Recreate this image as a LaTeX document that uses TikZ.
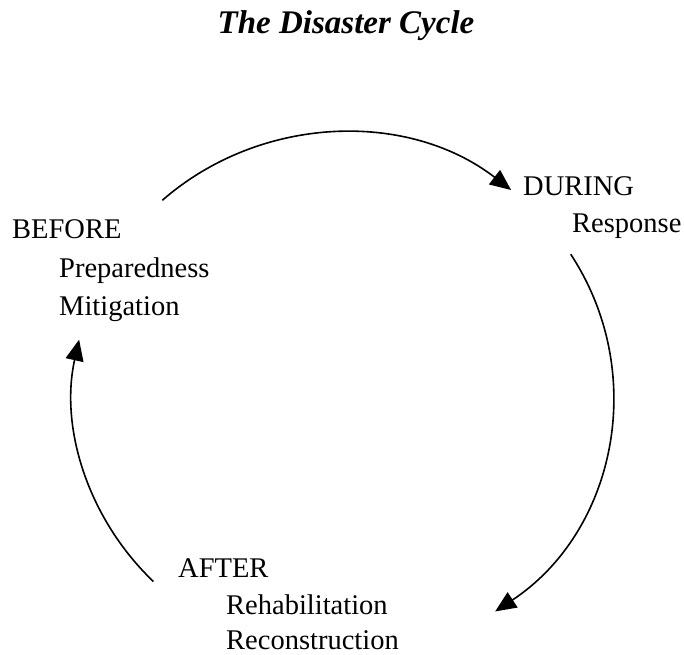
\documentclass[tikz,border=0pt]{standalone}
\usepackage{fontspec}
\setmainfont{Liberation Serif}
\usetikzlibrary{arrows.meta}

\tikzset{
  label/.style={anchor=base west, inner sep=0pt, font=\fontsize{28.5}{34}\selectfont},
  cyc/.style={line width=1.6pt, -{Triangle[length=21pt,width=18pt]}}
}

\begin{document}
\begin{tikzpicture}[x=1pt,y=-1pt]
\useasboundingbox (0,0) rectangle (684,654);

% title
\node (title) [anchor=base, inner sep=0pt, font=\fontsize{33}{38}\selectfont\bfseries\itshape] at (346,33) {The Disaster Cycle};

% nodes
\node (before) [label] at (12,238) {BEFORE};
\node (prep) [label] at (59,277) {Preparedness};
\node (mitig) [label] at (59,315) {Mitigation};

\node (during) [label] at (523,195) {DURING};
\node (resp) [label] at (572,232) {Response};

\node (after) [label] at (178,577) {AFTER};
\node (rehab) [label] at (226,614) {Rehabilitation};
\node (recon) [label] at (226,649) {Reconstruction};

% arrows
\coordinate (ctr) at (343,395);
\path (ctr) ++(132:270pt and 262pt) coordinate (s1);
\path (ctr) ++(32.5:270pt and 262pt) coordinate (s2);
\path (ctr) ++(-134.6:270pt and 262pt) coordinate (s3);

\draw [cyc] (s1) arc [start angle=132, end angle=51.5, x radius=270pt, y radius=262pt];
\draw [cyc] (s2) arc [start angle=32.5, end angle=-55.7, x radius=270pt, y radius=262pt];
\draw [cyc] (s3) arc [start angle=-134.6, end angle=-192.2, x radius=270pt, y radius=262pt];

\end{tikzpicture}
\end{document}
